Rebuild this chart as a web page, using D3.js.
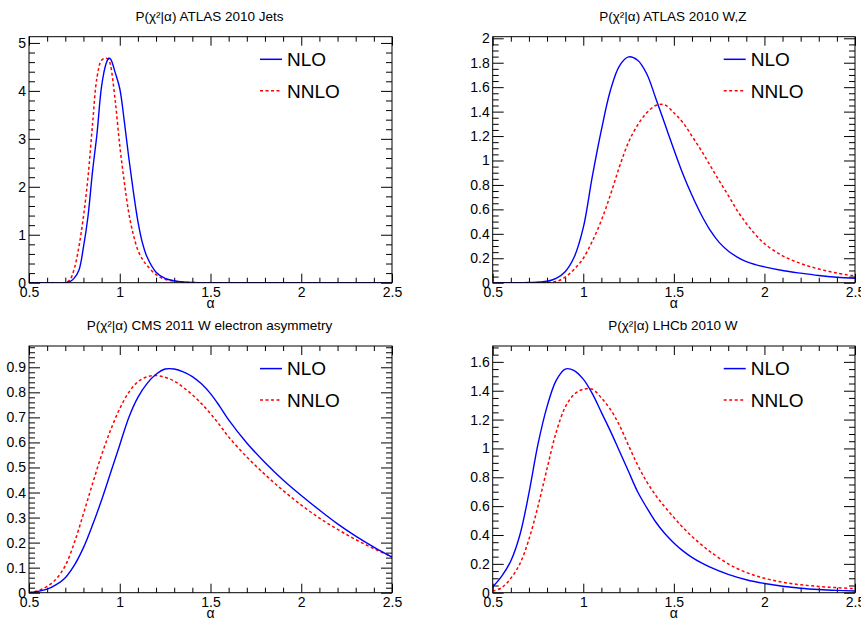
<!DOCTYPE html>
<html>
<head>
<meta charset="utf-8">
<script src="https://cdn.jsdelivr.net/npm/d3@7"></script>
<style>
  html, body { margin: 0; padding: 0; background: #fff; }
  svg { display: block; }
  text { font-family: "Liberation Sans", Arial, Helvetica, sans-serif; fill: #000; }
</style>
</head>
<body>
<svg id="chart" width="861" height="621"></svg>
<script>
// ---------- DATA ----------
const titles = [
  "P(χ²|α) ATLAS 2010 Jets",
  "P(χ²|α) ATLAS 2010 W,Z",
  "P(χ²|α) CMS 2011 W electron asymmetry",
  "P(χ²|α) LHCb 2010 W"
];
const seriesNames = ["NLO", "NNLO"];
const xTickLabels = ["0.5", "1", "1.5", "2", "2.5"];

// Panel 1: ATLAS 2010 Jets
const alphaJets = [0.5, 0.6, 0.7, 0.725, 0.75, 0.775, 0.8, 0.825, 0.85, 0.875, 0.9, 0.925, 0.94, 0.95, 0.975, 1.0, 1.025, 1.05, 1.075, 1.1, 1.125, 1.15, 1.2, 1.25, 1.3, 1.35, 1.4, 1.5, 2.0, 2.5];
const nloJets  = [0, 0, 0.0, 0.02, 0.1, 0.26, 0.74, 1.38, 2.32, 3.12, 4.1, 4.57, 4.68, 4.66, 4.38, 4.05, 3.37, 2.6, 1.9, 1.28, 0.83, 0.54, 0.22, 0.09, 0.04, 0.015, 0.005, 0, 0, 0];
const nnloJets = [0, 0, 0.0, 0.06, 0.3, 0.75, 1.38, 2.2, 3.3, 4.29, 4.64, 4.68, 4.64, 4.52, 3.8, 2.86, 2.1, 1.45, 1.0, 0.68, 0.49, 0.36, 0.17, 0.07, 0.03, 0.01, 0.003, 0, 0, 0];

// Panel 2: ATLAS 2010 W,Z
const alphaWZ = [0.5, 0.6, 0.7, 0.8, 0.85, 0.9, 0.95, 1.0, 1.05, 1.1, 1.15, 1.2, 1.25, 1.3, 1.35, 1.4, 1.45, 1.5, 1.55, 1.6, 1.65, 1.7, 1.75, 1.8, 1.85, 1.9, 1.95, 2.0, 2.1, 2.2, 2.3, 2.4, 2.5];
const nloWZ  = [0, 0, 0.002, 0.012, 0.035, 0.09, 0.21, 0.45, 0.87, 1.25, 1.575, 1.775, 1.848, 1.82, 1.71, 1.51, 1.30, 1.09, 0.89, 0.715, 0.56, 0.43, 0.33, 0.26, 0.21, 0.172, 0.148, 0.13, 0.1, 0.078, 0.059, 0.045, 0.036];
const nnloWZ = [0, 0, 0, 0.003, 0.01, 0.045, 0.11, 0.2, 0.34, 0.51, 0.72, 0.95, 1.15, 1.29, 1.39, 1.45, 1.455, 1.39, 1.31, 1.20, 1.085, 0.96, 0.835, 0.715, 0.59, 0.485, 0.395, 0.32, 0.22, 0.157, 0.112, 0.079, 0.055];

// Panel 3: CMS 2011 W electron asymmetry
const alphaCMS = [0.5, 0.55, 0.6, 0.65, 0.7, 0.75, 0.8, 0.85, 0.9, 0.95, 1.0, 1.05, 1.1, 1.15, 1.2, 1.25, 1.3, 1.35, 1.4, 1.45, 1.5, 1.55, 1.6, 1.7, 1.8, 1.9, 2.0, 2.1, 2.2, 2.3, 2.4, 2.5];
const nloCMS  = [0, 0.005, 0.014, 0.032, 0.06, 0.11, 0.18, 0.27, 0.37, 0.48, 0.59, 0.70, 0.78, 0.835, 0.872, 0.893, 0.893, 0.882, 0.863, 0.834, 0.795, 0.745, 0.69, 0.598, 0.52, 0.45, 0.388, 0.33, 0.275, 0.226, 0.182, 0.142];
const nnloCMS = [0, 0.008, 0.025, 0.055, 0.108, 0.2, 0.315, 0.435, 0.55, 0.65, 0.735, 0.80, 0.842, 0.862, 0.867, 0.86, 0.845, 0.82, 0.79, 0.755, 0.715, 0.67, 0.622, 0.542, 0.472, 0.408, 0.35, 0.298, 0.253, 0.212, 0.176, 0.143];

// Panel 4: LHCb 2010 W
const alphaLHCb = [0.5, 0.55, 0.6, 0.65, 0.7, 0.75, 0.8, 0.85, 0.9, 0.95, 1.0, 1.05, 1.1, 1.15, 1.2, 1.25, 1.3, 1.35, 1.4, 1.45, 1.5, 1.55, 1.6, 1.65, 1.7, 1.8, 1.9, 2.0, 2.1, 2.2, 2.3, 2.4, 2.5];
const nloLHCb  = [0.04, 0.115, 0.22, 0.40, 0.69, 1.03, 1.29, 1.47, 1.55, 1.54, 1.48, 1.38, 1.25, 1.12, 0.98, 0.84, 0.70, 0.59, 0.49, 0.41, 0.345, 0.29, 0.245, 0.208, 0.177, 0.127, 0.09, 0.064, 0.045, 0.031, 0.022, 0.016, 0.012];
const nnloLHCb = [0.01, 0.035, 0.1, 0.2, 0.37, 0.6, 0.86, 1.11, 1.285, 1.375, 1.41, 1.41, 1.35, 1.27, 1.16, 1.02, 0.885, 0.77, 0.675, 0.595, 0.522, 0.452, 0.39, 0.335, 0.285, 0.2, 0.14, 0.1, 0.073, 0.055, 0.043, 0.035, 0.028];

// y-axis tick labels per panel
const yTicksJets = ["0", "1", "2", "3", "4", "5"];
const yTicksWZ   = ["0", "0.2", "0.4", "0.6", "0.8", "1", "1.2", "1.4", "1.6", "1.8", "2"];
const yTicksCMS  = ["0", "0.1", "0.2", "0.3", "0.4", "0.5", "0.6", "0.7", "0.8", "0.9"];
const yTicksLHCb = ["0", "0.2", "0.4", "0.6", "0.8", "1", "1.2", "1.4", "1.6"];

// ---------- LAYOUT ----------
const svg = d3.select("#chart");
const colors = { NLO: "#0000ff", NNLO: "#ff0000" };

const panels = [
  { title: titles[0], alpha: alphaJets, nlo: nloJets, nnlo: nnloJets, yTicks: yTicksJets, yMax: 5.13, yMinor: 0.2,
    x0: 29, x1: 392, y0: 36.7, y1: 282.7 },
  { title: titles[1], alpha: alphaWZ, nlo: nloWZ, nnlo: nnloWZ, yTicks: yTicksWZ, yMax: 2.013, yMinor: 0.05,
    x0: 492.7, x1: 855, y0: 36.7, y1: 282.7 },
  { title: titles[2], alpha: alphaCMS, nlo: nloCMS, nnlo: nnloCMS, yTicks: yTicksCMS, yMax: 0.985, yMinor: 0.02,
    x0: 29, x1: 392, y0: 346, y1: 592.7 },
  { title: titles[3], alpha: alphaLHCb, nlo: nloLHCb, nnlo: nnloLHCb, yTicks: yTicksLHCb, yMax: 1.71, yMinor: 0.05,
    x0: 492.7, x1: 855, y0: 346, y1: 592.7 }
];

panels.forEach((p, i) => {
  const g = svg.append("g");
  const x = d3.scaleLinear().domain([0.5, 2.5]).range([p.x0, p.x1]);
  const y = d3.scaleLinear().domain([0, p.yMax]).range([p.y1, p.y0]);

  const xMajor = xTickLabels.map(Number);
  const xMinor = d3.range(0.5, 2.5001, 0.1).filter(v => !xMajor.some(m => Math.abs(m - v) < 1e-6));
  const yMajor = p.yTicks.map(Number);
  const yMinor = d3.range(0, p.yMax + 1e-9, p.yMinor).filter(v => !yMajor.some(m => Math.abs(m - v) < 1e-6));

  const fmtX = d => xTickLabels[xMajor.findIndex(m => Math.abs(m - d) < 1e-9)];
  const fmtY = d => p.yTicks[yMajor.findIndex(m => Math.abs(m - d) < 1e-9)];

  // bottom axis (major with labels)
  g.append("g").attr("transform", `translate(0,${p.y1})`)
    .call(d3.axisBottom(x).tickValues(xMajor).tickSize(-9).tickPadding(4).tickFormat(fmtX));
  g.append("g").attr("transform", `translate(0,${p.y1})`)
    .call(d3.axisBottom(x).tickValues(xMinor).tickSize(-5).tickFormat(""));
  // top axis ticks
  g.append("g").attr("transform", `translate(0,${p.y0})`)
    .call(d3.axisTop(x).tickValues(xMajor).tickSize(-9).tickFormat(""));
  g.append("g").attr("transform", `translate(0,${p.y0})`)
    .call(d3.axisTop(x).tickValues(xMinor).tickSize(-5).tickFormat(""));
  // left axis
  g.append("g").attr("transform", `translate(${p.x0},0)`)
    .call(d3.axisLeft(y).tickValues(yMajor).tickSize(-11).tickPadding(3).tickFormat(fmtY));
  g.append("g").attr("transform", `translate(${p.x0},0)`)
    .call(d3.axisLeft(y).tickValues(yMinor).tickSize(-6).tickFormat(""));
  // right axis ticks
  g.append("g").attr("transform", `translate(${p.x1},0)`)
    .call(d3.axisRight(y).tickValues(yMajor).tickSize(-11).tickFormat(""));
  g.append("g").attr("transform", `translate(${p.x1},0)`)
    .call(d3.axisRight(y).tickValues(yMinor).tickSize(-6).tickFormat(""));

  g.selectAll(".domain").remove();
  g.selectAll(".tick line").attr("stroke", "#000").attr("stroke-width", 1);
  g.selectAll(".tick text").style("font-size", "14px").attr("fill", "#000");

  // clip
  const clipId = "clip" + i;
  svg.append("clipPath").attr("id", clipId).append("rect")
    .attr("x", p.x0).attr("y", p.y0).attr("width", p.x1 - p.x0).attr("height", p.y1 - p.y0);

  const line = d3.line().x(d => x(d[0])).y(d => y(d[1])).curve(d3.curveCatmullRom.alpha(0.5));
  const nloPts = p.alpha.map((a, k) => [a, p.nlo[k]]);
  const nnloPts = p.alpha.map((a, k) => [a, p.nnlo[k]]);

  g.append("path").attr("d", line(nnloPts)).attr("fill", "none")
    .attr("stroke", colors.NNLO).attr("stroke-width", 1.5).attr("stroke-dasharray", "3,2.5")
    .attr("clip-path", `url(#${clipId})`);
  g.append("path").attr("d", line(nloPts)).attr("fill", "none")
    .attr("stroke", colors.NLO).attr("stroke-width", 1.4)
    .attr("clip-path", `url(#${clipId})`);

  // frame
  g.append("rect").attr("x", p.x0).attr("y", p.y0).attr("width", p.x1 - p.x0).attr("height", p.y1 - p.y0)
    .attr("fill", "none").attr("stroke", "#000").attr("stroke-width", 1);

  // title
  g.append("text").attr("x", (p.x0 + p.x1) / 2 - 1).attr("y", p.y0 - 16.2)
    .attr("text-anchor", "middle").style("font-size", "13.5px").text(p.title);

  // x-axis title
  g.append("text").attr("x", (p.x0 + p.x1) / 2).attr("y", p.y1 + 25.5)
    .attr("text-anchor", "middle").style("font-size", "14px").text("α");

  // legend
  const lx = p.x0 + 231;
  const legendRows = [
    { name: seriesNames[0], dy: 22.6, dash: null, color: colors.NLO },
    { name: seriesNames[1], dy: 54, dash: "3,2.5", color: colors.NNLO }
  ];
  legendRows.forEach(r => {
    g.append("line").attr("x1", lx).attr("x2", lx + 22)
      .attr("y1", p.y0 + r.dy).attr("y2", p.y0 + r.dy)
      .attr("stroke", r.color).attr("stroke-width", 1.5)
      .attr("stroke-dasharray", r.dash);
    g.append("text").attr("x", lx + 27).attr("y", p.y0 + r.dy + 6.8)
      .style("font-size", "19px").text(r.name);
  });
});
</script>
</body>
</html>
